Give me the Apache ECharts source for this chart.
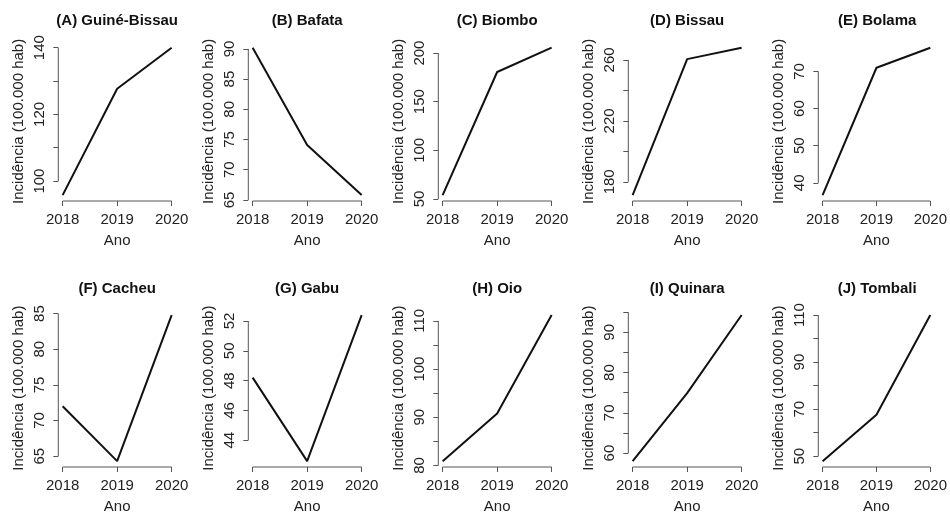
<!DOCTYPE html>
<html>
<head>
<meta charset="utf-8">
<script src="https://cdn.jsdelivr.net/npm/echarts@6/dist/echarts.min.js"></script>
<style>
html,body{margin:0;padding:0;background:#fff;}
#chart{width:950px;height:515px;}
</style>
</head>
<body>
<div id="chart"></div>
<script>
// ---- data ----
const years = [2018, 2019, 2020];
const panelTitles = ['(A) Guiné-Bissau', '(B) Bafata', '(C) Biombo', '(D) Bissau', '(E) Bolama',
                     '(F) Cacheu', '(G) Gabu', '(H) Oio', '(I) Quinara', '(J) Tombali'];
const guineBissau = [95.8, 127.7, 140.0];
const bafata      = [90.2, 74.1, 65.8];
const biombo      = [54.0, 180.5, 205.5];
const bissau      = [171.3, 260.5, 268.0];
const bolama      = [36.7, 71.0, 76.4];
const cacheu      = [72.0, 64.3, 84.8];
const gabu        = [48.2, 42.6, 52.4];
const oio         = [80.9, 90.8, 111.2];
const quinara     = [58.0, 74.9, 94.3];
const tombali     = [47.9, 67.6, 110.0];
const seriesValues = [guineBissau, bafata, biombo, bissau, bolama, cacheu, gabu, oio, quinara, tombali];

// y-axis tick marks and tick labels per panel
const yTicks = [
  [100, 110, 120, 130, 140],
  [65, 70, 75, 80, 85, 90],
  [50, 100, 150, 200],
  [180, 200, 220, 240, 260],
  [40, 50, 60, 70],
  [65, 70, 75, 80, 85],
  [44, 46, 48, 50, 52],
  [80, 85, 90, 95, 100, 105, 110],
  [60, 65, 70, 75, 80, 85, 90, 95],
  [50, 60, 70, 80, 90, 100, 110]
];
const yTickLabels = [
  [100, 120, 140],
  [65, 70, 75, 80, 85, 90],
  [50, 100, 150, 200],
  [180, 220, 260],
  [40, 50, 60, 70],
  [65, 70, 75, 80, 85],
  [44, 46, 48, 50, 52],
  [80, 90, 100, 110],
  [60, 70, 80, 90],
  [50, 70, 90, 110]
];
const xTickLabels = [2018, 2019, 2020];
const xAxisTitle = 'Ano';
const yAxisTitle = 'Incidência (100.000 hab)';

// ---- layout / style ----
const FONT = 'Liberation Sans, Arial, Helvetica, sans-serif';
const TXT = '#222';
const AX = '#555';
const colLeft = [58.3, 248.3, 438.3, 628.3, 818.3];
const rowTop = [41.8, 309.2];
const gW = 117.7, gH = 159.2;

function padRange(lo, hi) { const d = (hi - lo) * 0.04; return [lo - d, hi + d]; }

const grids = [], xAxes = [], yAxes = [], series = [], titles = [];
const xr = padRange(years[0], years[years.length - 1]);

seriesValues.forEach((vals, i) => {
  const col = i % 5, row = Math.floor(i / 5);
  const left = colLeft[col], top = rowTop[row];
  grids.push({ left: left, top: top, width: gW, height: gH, containLabel: false });
  const yr = padRange(Math.min(...vals), Math.max(...vals));
  xAxes.push({
    gridIndex: i, type: 'value', min: xr[0], max: xr[1],
    axisLine: { show: false },
    axisTick: { show: true, customValues: xTickLabels, length: 5, lineStyle: { color: AX, width: 1 } },
    axisLabel: { show: true, customValues: xTickLabels, margin: 11, color: TXT, fontSize: 15, fontFamily: FONT,
                 formatter: v => String(v) },
    splitLine: { show: false },
    name: xAxisTitle, nameLocation: 'middle', nameGap: 32,
    nameTextStyle: { color: TXT, fontSize: 15, fontFamily: FONT }
  });
  yAxes.push({
    gridIndex: i, type: 'value', min: yr[0], max: yr[1],
    axisLine: { show: false },
    axisTick: { show: true, customValues: yTicks[i], length: 5, lineStyle: { color: AX, width: 1 } },
    axisLabel: { show: true, customValues: yTickLabels[i], rotate: 90, margin: 11, color: TXT, fontSize: 15,
                 fontFamily: FONT, formatter: v => String(v) },
    splitLine: { show: false },
    name: yAxisTitle, nameLocation: 'middle', nameGap: 32, nameRotate: 90,
    nameTextStyle: { color: TXT, fontSize: 15, fontFamily: FONT }
  });
  // data line
  series.push({
    type: 'line', xAxisIndex: i, yAxisIndex: i,
    data: years.map((y, k) => [y, vals[k]]),
    symbol: 'none', lineStyle: { color: '#111', width: 2 }, z: 3, silent: true
  });
  // R-style axis lines spanning only the tick range
  const yt = yTicks[i];
  series.push({
    type: 'line', xAxisIndex: i, yAxisIndex: i, clip: false, silent: true, z: 2,
    data: [[xTickLabels[0], yr[0]], [xTickLabels[xTickLabels.length - 1], yr[0]]],
    symbol: 'none', lineStyle: { color: AX, width: 1 }
  });
  series.push({
    type: 'line', xAxisIndex: i, yAxisIndex: i, clip: false, silent: true, z: 2,
    data: [[xr[0], yt[0]], [xr[0], yt[yt.length - 1]]],
    symbol: 'none', lineStyle: { color: AX, width: 1 }
  });
  titles.push({
    text: panelTitles[i], left: left + gW / 2, top: top - 28, textAlign: 'center', padding: 0,
    textStyle: { color: '#111', fontSize: 15, fontWeight: 'bold', fontFamily: FONT }
  });
});

const chart = echarts.init(document.getElementById('chart'), null, { renderer: 'canvas' });
chart.setOption({
  animation: false,
  backgroundColor: '#fff',
  title: titles,
  grid: grids,
  xAxis: xAxes,
  yAxis: yAxes,
  series: series
});
</script>
</body>
</html>
